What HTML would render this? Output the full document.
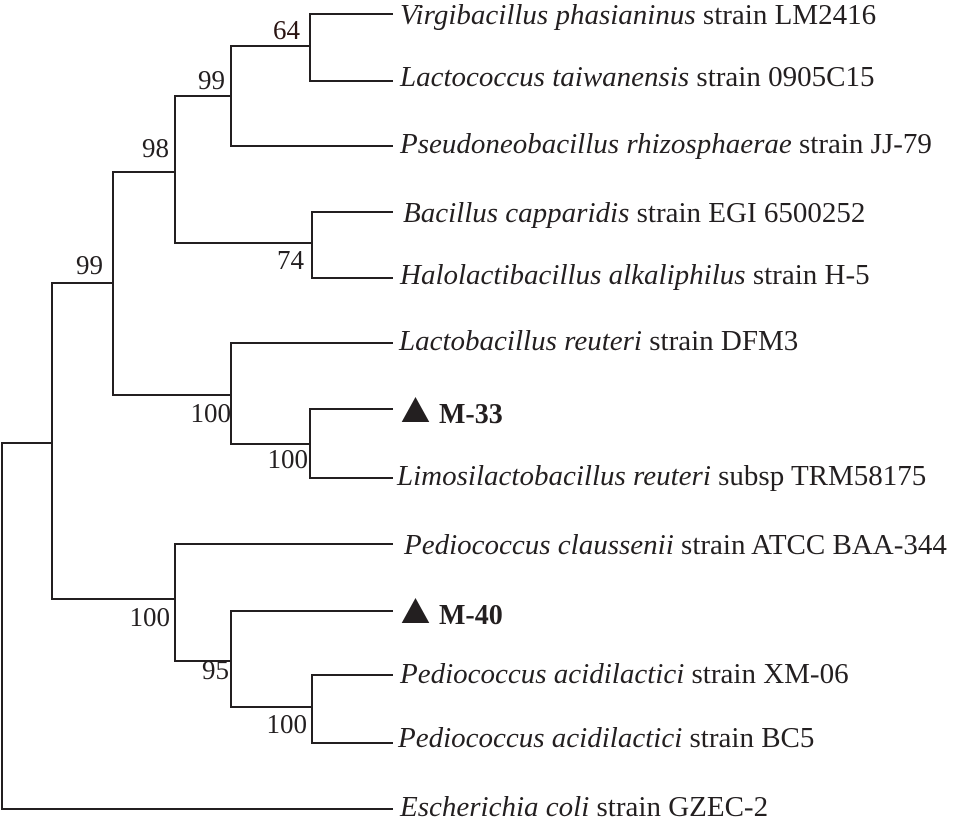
<!DOCTYPE html>
<html>
<head>
<meta charset="utf-8">
<style>
html,body{margin:0;padding:0;background:#fff;}
svg{display:block;}
.t{font-family:"Liberation Serif","Times New Roman",serif;font-size:29px;fill:#231f20;}
.i{font-style:italic;}
.b{font-family:"Liberation Serif","Times New Roman",serif;font-size:28px;font-weight:bold;fill:#231f20;}
.n{font-family:"Liberation Serif","Times New Roman",serif;font-size:27px;fill:#231f20;}
</style>
</head>
<body>
<svg width="953" height="827" viewBox="0 0 953 827" xmlns="http://www.w3.org/2000/svg">
<g stroke="#231f20" stroke-width="2" fill="none" stroke-linecap="square">
  <path d="M392 809 H2 V443 H52"/>
  <path d="M113 283 H52 V599 H175"/>
  <path d="M175 172 H113 V395 H231"/>
  <path d="M231 96 H175 V243 H312"/>
  <path d="M310 46 H231 V146 H392"/>
  <path d="M392 14 H310 V81 H392"/>
  <path d="M392 212 H312 V278 H392"/>
  <path d="M392 343 H231 V444 H310"/>
  <path d="M392 409 H310 V478 H392"/>
  <path d="M392 544 H175 V661 H231"/>
  <path d="M392 611 H231 V707 H312"/>
  <path d="M392 675 H312 V743 H392"/>
</g>

<text class="t" x="400" y="24"><tspan class="i">Virgibacillus phasianinus</tspan> strain LM2416</text>
<text class="t" x="400" y="86"><tspan class="i">Lactococcus taiwanensis</tspan> strain 0905C15</text>
<text class="t" x="400" y="153"><tspan class="i">Pseudoneobacillus rhizosphaerae</tspan> strain JJ-79</text>
<text class="t" x="403" y="222"><tspan class="i">Bacillus capparidis</tspan> strain EGI 6500252</text>
<text class="t" x="400" y="284"><tspan class="i">Halolactibacillus alkaliphilus</tspan> strain H-5</text>
<text class="t" x="399" y="350"><tspan class="i">Lactobacillus reuteri</tspan> strain DFM3</text>
<polygon points="415.5,397 401.7,422 429.3,422" fill="#231f20"/>
<text class="b" x="439" y="423">M-33</text>
<text class="t" x="397" y="485"><tspan class="i">Limosilactobacillus reuteri</tspan> subsp TRM58175</text>
<text class="t" x="404" y="554"><tspan class="i">Pediococcus claussenii</tspan> strain ATCC BAA-344</text>
<polygon points="415.5,598 401.7,623 429.3,623" fill="#231f20"/>
<text class="b" x="439" y="624">M-40</text>
<text class="t" x="400" y="683"><tspan class="i">Pediococcus acidilactici</tspan> strain XM-06</text>
<text class="t" x="398" y="747"><tspan class="i">Pediococcus acidilactici</tspan> strain BC5</text>
<text class="t" x="400" y="816"><tspan class="i">Escherichia coli</tspan> strain GZEC-2</text>

<text class="n" x="300" y="39" text-anchor="end" style="fill:#2a1412">64</text>
<text class="n" x="225" y="89" text-anchor="end">99</text>
<text class="n" x="169" y="157" text-anchor="end">98</text>
<text class="n" x="304" y="269" text-anchor="end">74</text>
<text class="n" x="103" y="274" text-anchor="end">99</text>
<text class="n" x="231" y="422" text-anchor="end">100</text>
<text class="n" x="308" y="468" text-anchor="end">100</text>
<text class="n" x="170" y="626" text-anchor="end">100</text>
<text class="n" x="229" y="679" text-anchor="end">95</text>
<text class="n" x="307" y="733" text-anchor="end">100</text>
</svg>
</body>
</html>
